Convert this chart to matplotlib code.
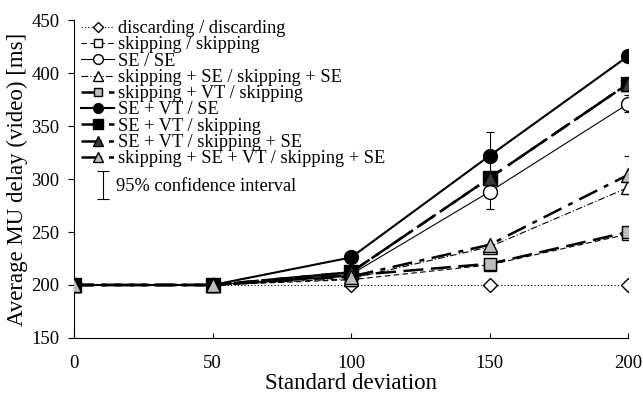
import numpy as np
import matplotlib
matplotlib.use("Agg")
import matplotlib.pyplot as plt
from matplotlib.legend_handler import HandlerErrorbar

plt.rcParams["font.family"] = ["Liberation Serif", "DejaVu Serif"]

std_dev = [0, 50, 100, 150, 200]

discard = [200, 200, 200, 200, 200]
skip = [200, 200, 205, 219, 248]
se = [200, 200, 210, 288, 371]
skip_se = [200, 200, 206, 236, 292]
skip_vt = [200, 200, 209, 220, 250]
se_vt_se = [200, 200, 226, 322, 416]
se_vt_skip = [200, 200, 212, 301, 390]
se_vt_skip_se = [200, 200, 212, 301, 390]
skip_se_vt = [200, 200, 208, 238, 304]

labels = [
    "discarding / discarding",
    "skipping / skipping",
    "SE / SE",
    "skipping + SE / skipping + SE",
    "skipping + VT / skipping",
    "SE + VT / SE",
    "SE + VT / skipping",
    "SE + VT / skipping + SE",
    "skipping + SE + VT / skipping + SE",
]

# 95% CI half widths (only a few visible)
ci_se_vt_se = [0, 0, 0, 22, 0]
ci_se = [0, 0, 0, 16, 8]
ci_skip_se_vt = [0, 0, 0, 0, 18]

GRAY = "#bdbdbd"
DARK = "#3a3a3a"

styles = [
    (discard, dict(ls=(0, (1, 2)), lw=0.8, marker="D", ms=7, mfc="white", mec="black")),
    (skip, dict(ls=(0, (5, 3)), lw=0.8, marker="s", ms=9, mfc="white", mec="black")),
    (se, dict(ls="-", lw=0.8, marker="o", ms=10, mfc="white", mec="black")),
    (skip_se, dict(ls=(0, (6, 2, 1, 2)), lw=0.8, marker="^", ms=10, mfc="white", mec="black")),
    (skip_vt, dict(ls=(0, (8, 3)), lw=1.8, marker="s", ms=9, mfc=GRAY, mec="black")),
    (se_vt_se, dict(ls="-", lw=1.5, marker="o", ms=10, mfc="black", mec="black")),
    (se_vt_skip, dict(ls=(0, (8, 3)), lw=1.8, marker="s", ms=10, mfc="black", mec="black")),
    (se_vt_skip_se, dict(ls=(0, (8, 3, 2, 3)), lw=1.8, marker="^", ms=10, mfc=DARK, mec="black")),
    (skip_se_vt, dict(ls=(0, (8, 3, 2, 3)), lw=1.8, marker="^", ms=10, mfc=GRAY, mec="black")),
]

fig = plt.figure(figsize=(6.43, 3.93), dpi=100)
ax = fig.add_axes([0.115, 0.14, 0.862, 0.809])

handles = []
for (vals, kw), lab in zip(styles, labels):
    h, = ax.plot(std_dev, vals, color="black", label=lab, zorder=3, **kw)
    handles.append(h)

for vals, ci in [(se_vt_se, ci_se_vt_se), (se, ci_se), (skip_se_vt, ci_skip_se_vt)]:
    x = [s for s, c in zip(std_dev, ci) if c > 0]
    y = [v for v, c in zip(vals, ci) if c > 0]
    e = [c for c in ci if c > 0]
    ax.errorbar(x, y, yerr=e, fmt="none", ecolor="black", elinewidth=0.8,
                capsize=3, capthick=0.8, zorder=2)

ci_handle = ax.errorbar([np.nan], [np.nan], yerr=[1], fmt="none", ecolor="black",
                        elinewidth=0.8, capsize=4, capthick=0.8)

ax.set_xlim(0, 200)
ax.set_ylim(150, 450)
ax.set_xticks(std_dev)
ax.set_yticks(np.arange(150, 451, 50))
ax.spines["top"].set_visible(False)
ax.spines["right"].set_visible(False)
ax.tick_params(axis="x", direction="in", labelsize=13.5, pad=12)
ax.tick_params(axis="y", direction="out", labelsize=13.5, length=4.5, pad=6)
ax.set_xlabel("Standard deviation", fontsize=16.5, labelpad=1)
ax.set_ylabel("Average MU delay (video) [ms]", fontsize=16.5, labelpad=2)

leg = ax.legend(handles, labels,
                loc="upper left", bbox_to_anchor=(-0.01, 1.04), frameon=False,
                fontsize=13.2, handlelength=1.8, handletextpad=0.2,
                labelspacing=-0.04, borderaxespad=0.3, markerscale=0.7)
ax.add_artist(leg)

ax.legend([ci_handle], ["95% confidence interval"],
          loc="center left", bbox_to_anchor=(0.04, 0.475), frameon=False,
          fontsize=13.2, handlelength=0.8, handletextpad=0.3,
          borderpad=0, borderaxespad=0,
          handler_map={ci_handle: HandlerErrorbar(yerr_size=0.75)})

fig.savefig("out.png", dpi=100)
